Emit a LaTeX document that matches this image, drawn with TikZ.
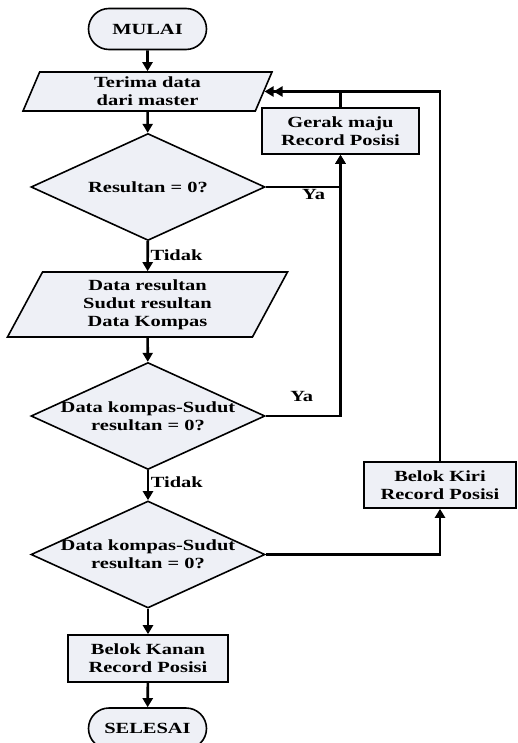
\documentclass[tikz,border=0pt]{standalone}
\usepackage{fontspec}
\setmainfont{Liberation Serif}[FakeStretch=1.32]
\usetikzlibrary{shapes.geometric,shapes.misc,arrows.meta}

\definecolor{boxfill}{RGB}{238,240,246}

\tikzset{
    base/.style={draw, line width=1.6pt, fill=boxfill, align=center, inner sep=0pt,
        font=\fontsize{15.5}{18}\selectfont\bfseries},
    terminal/.style={base, rounded rectangle, minimum width=118pt, minimum height=41pt},
    io/.style={base, trapezium, trapezium stretches body,
        trapezium left angle=60, trapezium right angle=120},
    process/.style={base, rectangle, minimum width=157pt, minimum height=46pt},
    decision/.style={base, diamond, minimum width=234pt, minimum height=107pt},
    txt/.style={font=\fontsize{15.5}{18}\selectfont\bfseries, align=center},
    lbl/.style={font=\fontsize{15.5}{18}\selectfont\bfseries, inner sep=1.5pt},
    flow/.style={line width=2.6pt, -{Triangle[width=10pt,length=9pt]}}
}

\begin{document}
\begin{tikzpicture}[x=1pt, y=-1pt]

    \useasboundingbox (0,0) rectangle (517,743);

    %% Main column
    \node[terminal] (start) at (147.5,29) {MULAI};
    \node[io, minimum width=249pt, minimum height=39pt] (in1) at (147.5,91.5) {Terima data\\dari master};
    \node[decision, label={[txt]center:Resultan = 0?}] (d1) at (148,187) {};
    \node[io, trapezium left angle=55, trapezium right angle=125,
        minimum width=280pt, minimum height=65pt] (in2) at (147.5,304.5)
        {Data resultan\\Sudut resultan\\Data Kompas};
    \node[decision, label={[txt]center:{Data kompas-Sudut\\resultan = 0?}}] (d2) at (148,416) {};
    \node[decision, label={[txt]center:{Data kompas-Sudut\\resultan = 0?}}] (d3) at (148,554.5) {};
    \node[process, minimum width=160pt, minimum height=47pt] (kanan) at (148,658.5) {Belok Kanan\\Record Posisi};
    \node[terminal] (stop) at (147.5,728.5) {SELESAI};

    %% Right side
    \node[process] (maju) at (340.5,131) {Gerak maju\\Record Posisi};
    \node[process, minimum width=152pt] (kiri) at (440,485) {Belok Kiri\\Record Posisi};

    % Straight down
    \draw[flow] (start) -- (in1);
    \draw[flow] (in1) -- (d1);
    \draw[flow] (d1) -- node[lbl, pos=0.45, right] {Tidak} (in2);
    \draw[flow] (in2) -- (d2);
    \draw[flow] (d2) -- node[lbl, pos=0.4, right] {Tidak} (d3);
    \draw[flow] (d3) -- (kanan);
    \draw[flow] (kanan) -- (stop);

    % Ya branches
    \draw[flow] (d1.east) -| node[lbl, pos=0.32, below] {Ya} (maju.south);
    \draw[flow] (d2.east) -| node[lbl, pos=0.24, above=12pt] {Ya} (maju.south);
    \draw[flow] (d3.east) -| (kiri.south);

    % Back to input
    \draw[flow] (kiri.north) |- ([xshift=9pt]in1.east);
    \draw[flow] (maju.north) |- (in1.east);

\end{tikzpicture}
\end{document}
